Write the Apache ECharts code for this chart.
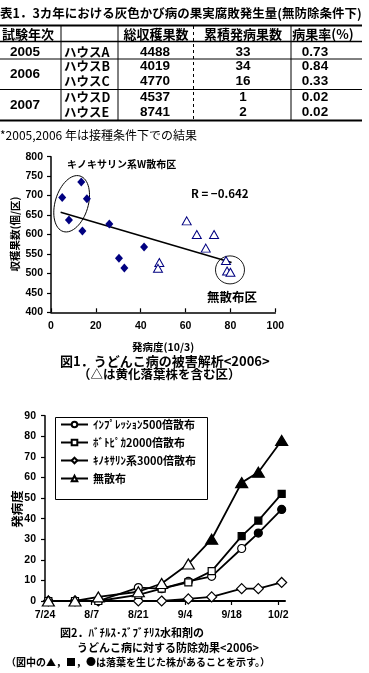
<!DOCTYPE html>
<html><head><meta charset="utf-8">
<script src="https://cdn.jsdelivr.net/npm/echarts@6/dist/echarts.min.js"></script>
<style>html,body{margin:0;padding:0;background:#fff}#c{width:369px;height:673px}</style>
</head><body><div id="c"></div>
<script>
// ---------- Table 1 ----------
const tableTitle = '表1．3カ年における灰色かび病の果実腐敗発生量(無防除条件下)';
const tableHeaders = ['試験年次', '総収穫果数', '累積発病果数', '病果率(%)'];
const tableYears = ['2005', '2006', '2007'];
const tableHouses = ['ハウスA', 'ハウスB', 'ハウスC', 'ハウスD', 'ハウスE'];
const totalFruits = [4488, 4019, 4770, 4537, 8741];
const diseasedFruits = [33, 34, 16, 1, 2];
const diseaseRate = ['0.73', '0.84', '0.33', '0.02', '0.02'];
const tableNote = '*2005,2006 年は接種条件下での結果';

// ---------- Figure 1 (scatter) ----------
const sprayName = 'キノキサリン系W散布区';
const sprayX = [5, 13.5, 16, 8, 14, 26, 41.5, 30.3, 32.7];
const sprayY = [695, 735, 692, 637, 609, 627, 568, 539, 514];
const noSprayName = '無散布区';
const noSprayX = [60.5, 65, 72.7, 69, 48.3, 47.7, 78, 78.5, 80];
const noSprayY = [635, 600, 600, 565, 528, 513, 533, 506, 503];
const trendX = [4.3, 80.5];
const trendY = [657, 528];
const rText = 'R = −0.642';
const fig1XName = '発病度(10/3)';
const fig1YName = '収穫果数(個/区)';
const fig1Caption = ['図1．うどんこ病の被害解析<2006>', '（△は黄化落葉株を含む区）'];

// ---------- Figure 2 (lines) ----------
const surveyDates = ['7/25', '8/2', '8/9', '8/21', '8/28', '9/5', '9/12', '9/21', '9/26', '10/3'];
const impressionName = 'ｲﾝﾌﾟﾚｯｼｮﾝ500倍散布';
const impressionVals = [0, 0, 0, 6.5, 6, 9.5, 12, 25.5, 33, 44.5];
const impressionLeafDrop = [0, 0, 0, 0, 0, 0, 0, 0, 1, 1];
const botopikaName = 'ﾎﾞﾄﾋﾟｶ2000倍散布';
const botopikaVals = [0, 0, 0, 3, 6, 9, 14.5, 31.5, 39, 52];
const botopikaLeafDrop = [0, 0, 0, 0, 0, 0, 0, 1, 1, 1];
const quinoxName = 'ｷﾉｷｻﾘﾝ系3000倍散布';
const quinoxVals = [0, 0, 0, 0, 0, 1, 2, 6, 6, 9];
const noneName = '無散布';
const noneVals = [0, 0, 2, 4.5, 8.5, 18, 30, 57.5, 62.5, 78];
const noneLeafDrop = [0, 0, 0, 0, 0, 0, 1, 1, 1, 1];
const xTickLabels = ['7/24', '8/7', '8/21', '9/4', '9/18', '10/2'];
const fig2YName = '発病度';
const fig2Caption = ['図2．ﾊﾞﾁﾙｽ･ｽﾞﾌﾞﾁﾘｽ水和剤の', 'うどんこ病に対する防除効果<2006>', '（図中の▲，■，●は落葉を生じた株があることを示す。）'];

// ---------- helpers ----------
const JP = '"Noto Sans CJK JP", sans-serif';
const NUM = '"Liberation Sans", "Noto Sans CJK JP", sans-serif';
function dayOf(md) {
  const [m, d] = md.split('/').map(Number);
  return Math.round((Date.UTC(2006, m - 1, d) - Date.UTC(2006, 6, 24)) / 86400000);
}
const surveyDays = surveyDates.map(dayOf);
const tickDays = xTickLabels.map(dayOf);

function txt(text, x, y, size, opts) {
  opts = opts || {};
  return {
    type: 'text', x: x, y: y, silent: true, rotation: opts.rotation || 0,
    style: {
      text: text,
      font: (opts.weight || 'bold') + ' ' + size + 'px ' + (opts.family || JP),
      fill: '#000',
      textAlign: opts.align || 'left',
      textVerticalAlign: 'middle', verticalAlign: 'middle'
    }
  };
}
function hline(x1, x2, y, w, dash) {
  return { type: 'line', silent: true, shape: { x1: x1, y1: y, x2: x2, y2: y },
    style: { stroke: '#000', lineWidth: w, lineDash: dash || null } };
}
function vline(x, y1, y2, w, dash) {
  return { type: 'line', silent: true, shape: { x1: x, y1: y1, x2: x, y2: y2 },
    style: { stroke: '#000', lineWidth: w, lineDash: dash || null } };
}

// ---------- table graphics ----------
const G = [];
G.push(txt(tableTitle, 0, 13, 12.5));
G.push(hline(0, 362, 25.5, 2));
G.push(hline(0, 362, 41.5, 1.6));
G.push(hline(0, 362, 59, 1));
G.push(hline(0, 362, 89.5, 1));
G.push(hline(0, 362, 120.5, 2.2));
G.push(vline(61, 26, 120, 1));
G.push(vline(118, 26, 120, 1));
G.push(vline(193.5, 26, 120, 1, [3, 3]));
G.push(vline(291, 26, 120, 1));
const headerX = [28, 156, 243, 323];
tableHeaders.forEach((h, i) => G.push(txt(h, headerX[i], 34, 13, { align: 'center' })));
const rowY = [52.3, 66.7, 81.7, 97.7, 112.7];
const yearY = [52.3, 74.2, 105.2];
tableYears.forEach((y, i) => G.push(txt(y, 25, yearY[i], 13.5, { align: 'center', family: NUM })));
tableHouses.forEach((h, i) => {
  G.push(txt(h, 64, rowY[i], 12.5));
  G.push(txt(String(totalFruits[i]), 155, rowY[i], 13.5, { align: 'center', family: NUM }));
  G.push(txt(String(diseasedFruits[i]), 243, rowY[i], 13.5, { align: 'center', family: NUM }));
  G.push(txt(diseaseRate[i], 315, rowY[i], 13.5, { align: 'center', family: NUM }));
});
G.push(txt(tableNote, 0, 135, 12, { weight: 'normal' }));

// ---------- figure annotations ----------
G.push(txt(sprayName, 67, 164, 10));
G.push(txt(rText, 191, 194, 11.5));
G.push(txt(noSprayName, 207, 297, 12.5));
G.push(txt(fig1Caption[0], 60, 361, 13));
G.push(txt(fig1Caption[1], 78, 374.5, 12.5));
G.push({ type: 'rect', silent: true, shape: { x: 55.5, y: 417.5, width: 152, height: 82 },
  style: { fill: '#fff', stroke: '#000', lineWidth: 1 }, z: 1 });
G.push(txt(fig2Caption[0], 60, 633, 11));
G.push(txt(fig2Caption[1], 77, 648, 11));
G.push(txt(fig2Caption[2], 6, 662, 10));

// ---------- series ----------
function lineSeries(name, vals, symbol, size, leaf) {
  return {
    type: 'line', name: name, xAxisIndex: 1, yAxisIndex: 1,
    symbol: symbol, symbolSize: size, showAllSymbol: true,
    lineStyle: { color: '#000', width: 1.8 },
    itemStyle: { color: '#fff', borderColor: '#000', borderWidth: 1.2 },
    emphasis: { disabled: true },
    data: vals.map((v, i) => ({
      value: [surveyDays[i], v],
      itemStyle: leaf && leaf[i] ? { color: '#000' } : undefined
    })),
    z: 3
  };
}

const axisFont = { fontFamily: NUM, fontWeight: 'bold', fontSize: 10.5, color: '#000' };

const option = {
  animation: false,
  backgroundColor: '#fff',
  grid: [
    { left: 51, top: 156.7, width: 224.3, height: 155.6, outerBoundsMode: 'none', containLabel: false },
    { left: 45, top: 415.7, width: 240, height: 185.3, outerBoundsMode: 'none', containLabel: false }
  ],
  xAxis: [
    { type: 'value', gridIndex: 0, min: 0, max: 100, interval: 20,
      name: fig1XName, nameLocation: 'middle', nameGap: 29,
      nameTextStyle: { fontFamily: JP, fontWeight: 'bold', fontSize: 10.5, color: '#000' },
      axisLine: { lineStyle: { color: '#000', width: 1.5 } },
      axisTick: { inside: true, length: 4, lineStyle: { color: '#000', width: 1.2 } },
      axisLabel: Object.assign({ margin: 9 }, axisFont),
      splitLine: { show: false } },
    { type: 'value', gridIndex: 1, min: 0, max: 72, interval: 14,
      axisLine: { lineStyle: { color: '#000', width: 2 } },
      axisTick: { length: 4, lineStyle: { color: '#000', width: 1.2 }, customValues: tickDays },
      axisLabel: Object.assign({ margin: 9, customValues: tickDays,
        formatter: v => { const k = tickDays.indexOf(v); return k >= 0 ? xTickLabels[k] : ''; } }, axisFont),
      splitLine: { show: false } }
  ],
  yAxis: [
    { type: 'value', gridIndex: 0, min: 400, max: 800, interval: 50,
      axisLine: { show: true, lineStyle: { color: '#000', width: 1.5 } },
      axisTick: { show: true, length: 4, lineStyle: { color: '#000', width: 1.2 } },
      axisLabel: Object.assign({ margin: 8 }, axisFont),
      splitLine: { show: false } },
    { type: 'value', gridIndex: 1, min: 0, max: 90, interval: 10,
      axisLine: { show: true, lineStyle: { color: '#000', width: 1.5 } },
      axisTick: { show: true, length: 4, lineStyle: { color: '#000', width: 1.2 } },
      axisLabel: Object.assign({ margin: 9 }, axisFont),
      splitLine: { show: false } }
  ],
  legend: {
    orient: 'vertical', left: 60, top: 419, padding: 0,
    itemWidth: 27, itemHeight: 7, itemGap: 7,
    data: [impressionName, botopikaName, quinoxName, noneName],
    textStyle: { fontFamily: JP, fontWeight: 'bold', fontSize: 11, color: '#000' },
    selectedMode: false, z: 5
  },
  series: [
    { type: 'line', name: 'trend', xAxisIndex: 0, yAxisIndex: 0, symbol: 'none',
      lineStyle: { color: '#000', width: 1.6 },
      data: trendX.map((x, i) => [x, trendY[i]]), z: 2 },
    { type: 'scatter', name: sprayName, xAxisIndex: 0, yAxisIndex: 0,
      symbol: 'diamond', symbolSize: [8, 9],
      itemStyle: { color: '#000080', opacity: 1 },
      data: sprayX.map((x, i) => [x, sprayY[i]]), z: 3 },
    { type: 'scatter', name: noSprayName, xAxisIndex: 0, yAxisIndex: 0,
      symbol: 'triangle', symbolSize: [9, 8],
      itemStyle: { color: '#fff', borderColor: '#000080', borderWidth: 1, opacity: 1 },
      data: noSprayX.map((x, i) => [x, noSprayY[i]]), z: 3 },
    lineSeries(quinoxName, quinoxVals, 'diamond', [10, 10], null),
    lineSeries(impressionName, impressionVals, 'circle', 8, impressionLeafDrop),
    lineSeries(botopikaName, botopikaVals, 'rect', 7, botopikaLeafDrop),
    lineSeries(noneName, noneVals, 'triangle', [12, 10], noneLeafDrop)
  ],
  graphic: { elements: G }
};

const chart = echarts.init(document.getElementById('c'), null, { renderer: 'canvas' });
chart.setOption(option);

// axis titles (vertical) placed beside the y axes
const p1 = chart.convertToPixel({ xAxisIndex: 0, yAxisIndex: 0 }, [0, 600]);
const p2 = chart.convertToPixel({ xAxisIndex: 1, yAxisIndex: 1 }, [0, 45]);
G.push(txt(fig1YName, p1[0] - 36, 234, 10.5, { align: 'center', rotation: Math.PI / 2 }));
G.push(txt(fig2YName, p2[0] - 28, 509, 12.5, { align: 'center', rotation: Math.PI / 2 }));

// ellipses drawn around groups, positioned through the scatter axes
const e1 = chart.convertToPixel({ xAxisIndex: 0, yAxisIndex: 0 }, [9.2, 679]);
const e2 = chart.convertToPixel({ xAxisIndex: 0, yAxisIndex: 0 }, [79.8, 509]);
G.push({ type: 'ellipse', silent: true, x: e1[0], y: e1[1], rotation: -16.7 * Math.PI / 180,
  shape: { cx: 0, cy: 0, rx: 16.5, ry: 29 }, style: { fill: null, stroke: '#000', lineWidth: 0.9 }, z: 1 });
G.push({ type: 'ellipse', silent: true, x: e2[0], y: e2[1],
  shape: { cx: 0, cy: 0, rx: 14.5, ry: 14 }, style: { fill: null, stroke: '#000', lineWidth: 0.9 }, z: 1 });
chart.setOption({ graphic: { elements: G } }, { replaceMerge: ['graphic'] });
</script>
</body></html>
